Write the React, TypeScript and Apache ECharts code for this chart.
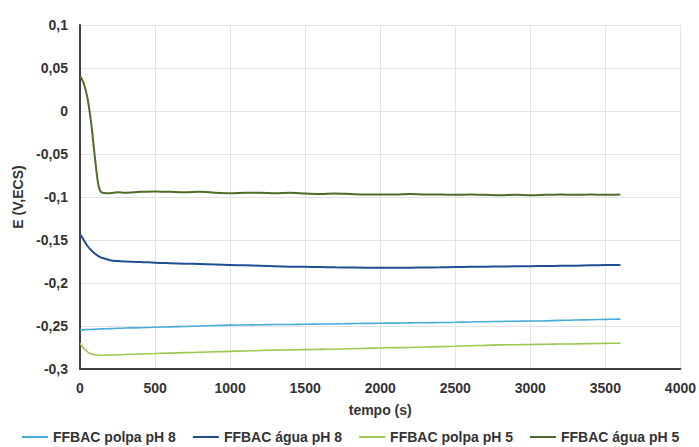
import React, { useEffect, useRef } from "react";
import * as echarts from "echarts";

const times = [0, 25, 50, 75, 100, 125, 150, 200, 250, 300,
  400, 500, 600, 700, 800, 900, 1000, 1100, 1200, 1300, 1400, 1500, 1600, 1700, 1800, 1900,
  2000, 2100, 2200, 2300, 2400, 2500, 2600, 2700, 2800, 2900, 3000, 3100, 3200, 3300, 3400, 3500, 3600];

const polpaPH8 = [-0.2545, -0.2545, -0.254, -0.254, -0.2538, -0.2535, -0.2533, -0.253, -0.2527, -0.2524,
  -0.252, -0.2515, -0.251, -0.2505, -0.25, -0.2495, -0.249, -0.2488, -0.2485, -0.2483, -0.2482, -0.248, -0.2477, -0.2475, -0.2472, -0.247,
  -0.2468, -0.2466, -0.2464, -0.2462, -0.246, -0.2457, -0.2453, -0.245, -0.2447, -0.2444, -0.2442, -0.244, -0.2435, -0.243, -0.2427, -0.2423, -0.242];

const aguaPH8 = [-0.143, -0.15, -0.157, -0.162, -0.166, -0.169, -0.171, -0.1735, -0.1745, -0.175,
  -0.1755, -0.1765, -0.177, -0.1775, -0.178, -0.1785, -0.179, -0.1795, -0.18, -0.1805, -0.181, -0.1812, -0.1815, -0.1818, -0.182, -0.1822,
  -0.1822, -0.1823, -0.1822, -0.182, -0.1818, -0.1815, -0.1812, -0.181, -0.1808, -0.1806, -0.1805, -0.1802, -0.18, -0.1798, -0.1795, -0.1792, -0.179];

const polpaPH5 = [-0.27, -0.276, -0.28, -0.2825, -0.2835, -0.284, -0.284, -0.2838, -0.2835, -0.2832,
  -0.2825, -0.282, -0.2815, -0.281, -0.2805, -0.28, -0.2795, -0.279, -0.2785, -0.278, -0.2778, -0.2775, -0.2772, -0.277, -0.2765, -0.276,
  -0.2755, -0.2752, -0.275, -0.2745, -0.274, -0.2735, -0.273, -0.2725, -0.272, -0.2718, -0.2715, -0.2712, -0.271, -0.2708, -0.2705, -0.2702, -0.27];

const aguaPH5 = [0.041, 0.032, 0.015, -0.015, -0.055, -0.088, -0.095, -0.0955, -0.0945, -0.095,
  -0.094, -0.0935, -0.094, -0.0945, -0.094, -0.095, -0.0955, -0.095, -0.095, -0.0955, -0.095, -0.096, -0.0965, -0.096, -0.0965, -0.097,
  -0.097, -0.097, -0.0965, -0.097, -0.097, -0.0975, -0.097, -0.0975, -0.098, -0.0975, -0.098, -0.0975, -0.097, -0.0975, -0.097, -0.0975, -0.097];

const seriesNames = ["FFBAC polpa pH 8", "FFBAC água pH 8", "FFBAC polpa pH 5", "FFBAC água pH 5"];
const seriesColors = ["#46acd8", "#1f4e92", "#9cc850", "#4f6b28"];
const seriesData = [polpaPH8, aguaPH8, polpaPH5, aguaPH5];

const FONT = "'Liberation Sans', Arial, sans-serif";

export default function App() {
  const ref = useRef<HTMLDivElement>(null);
  useEffect(() => {
    if (!ref.current) return;
    const chart = echarts.init(ref.current, null, { renderer: "svg" });
    chart.setOption({
      animation: false,
      backgroundColor: "#ffffff",
      grid: { left: 80, right: 17, top: 25, bottom: 78, containLabel: false },
      legend: {
        bottom: 3,
        left: 22,
        width: 677,
        padding: 0,
        itemWidth: 26,
        itemHeight: 2,
        itemGap: 17,
        icon: "rect",
        textStyle: { fontFamily: FONT, fontWeight: "bold", fontSize: 14, color: "#333333" },
        data: seriesNames,
      },
      xAxis: {
        type: "value",
        min: 0,
        max: 4000,
        interval: 500,
        name: "tempo (s)",
        nameLocation: "middle",
        nameGap: 34,
        nameTextStyle: { fontFamily: FONT, fontWeight: "bold", fontSize: 14, color: "#333333" },
        axisLine: { show: true, onZero: false, lineStyle: { color: "#404040", width: 2 } },
        axisTick: { show: false },
        axisLabel: {
          fontFamily: FONT, fontWeight: "bold", fontSize: 14, color: "#333333", margin: 12,
          formatter: (v: number) => String(v),
        },
        splitLine: { show: true, lineStyle: { color: "#e3e3e3", width: 1 } },
      },
      yAxis: {
        type: "value",
        min: -0.3,
        max: 0.1,
        interval: 0.05,
        name: "E (V,ECS)",
        nameLocation: "middle",
        nameGap: 49,
        nameTextStyle: { fontFamily: FONT, fontWeight: "bold", fontSize: 14, color: "#333333" },
        axisLine: { show: true, onZero: false, lineStyle: { color: "#404040", width: 2 } },
        axisTick: { show: false },
        axisLabel: {
          fontFamily: FONT,
          fontWeight: "bold",
          fontSize: 14,
          color: "#333333",
          margin: 12,
          formatter: (v: number) => String(Math.round(v * 100) / 100).replace(".", ","),
        },
        splitLine: { show: true, lineStyle: { color: "#e3e3e3", width: 1 } },
      },
      series: seriesNames.map((name, i) => ({
        name,
        type: "line",
        showSymbol: false,
        smooth: 0.3,
        color: seriesColors[i],
        lineStyle: { color: seriesColors[i], width: i % 2 === 1 ? 2 : 1.6 },
        data: times.map((t, j) => [t, seriesData[i][j]]),
      })),
    });
    return () => chart.dispose();
  }, []);
  return <div ref={ref} style={{ position: "fixed", left: 0, top: 0, width: 699, height: 447 }} />;
}
